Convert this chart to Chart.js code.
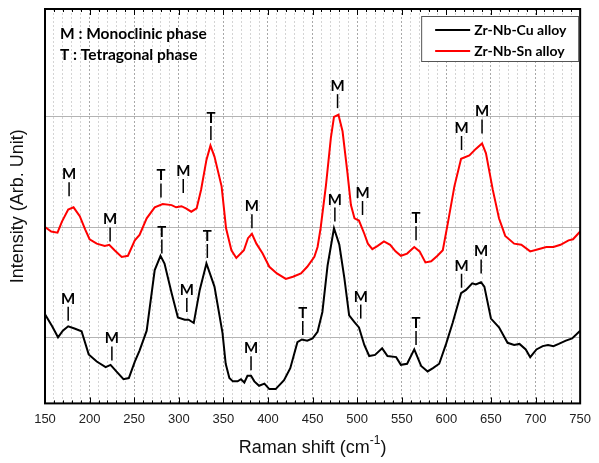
<!DOCTYPE html>
<html>
<head>
<meta charset="utf-8">
<script src="https://cdn.jsdelivr.net/npm/chart.js@4.4.1/dist/chart.umd.min.js"></script>
<style>
  body { margin: 0; background: #fff; }
  #wrap { width: 599px; height: 463px; }
</style>
</head>
<body>
<div id="wrap"><canvas id="raman" width="599" height="463"></canvas></div>
<script>
// Zr-Nb-Cu alloy (black)
const cuShift = [150, 158, 164.6, 170, 176, 183, 191, 199, 208, 218, 223.5, 230, 238, 244, 250.7, 256, 264, 273, 279.5, 284,
  292, 299, 306.7, 311, 316.8, 323.5, 331, 340, 349, 352.6, 356.7, 360.6, 366, 369.7, 373.5, 377, 381, 384.7, 390, 396,
  401.5, 408.6, 418, 425, 433, 438, 444, 450, 455.6, 461, 466.8, 474, 480, 485.6, 491, 496.7, 502, 508, 513.5, 520,
  528, 534, 543.7, 549, 556, 564, 571.7, 579, 585, 592, 599.7, 607, 616.5, 622, 629, 633, 638.8, 642.6, 650, 659,
  668.6, 676, 682, 689, 694, 701, 708, 714, 720, 726, 734, 741, 750];
const cuIntensity = [0.21, 0.10, 0.00, 0.06, 0.10, 0.08, 0.055, -0.155, -0.22, -0.27, -0.25, -0.31, -0.38, -0.37, -0.22, -0.12, 0.06, 0.61, 0.74, 0.67,
  0.40, 0.18, 0.16, 0.16, 0.13, 0.43, 0.67, 0.46, 0.04, -0.24, -0.37, -0.40, -0.40, -0.38, -0.41, -0.35, -0.35, -0.40, -0.44, -0.42,
  -0.47, -0.47, -0.39, -0.28, -0.045, -0.02, -0.03, -0.01, 0.05, 0.23, 0.65, 0.99, 0.84, 0.54, 0.20, 0.14, 0.09, -0.07, -0.17, -0.16,
  -0.10, -0.17, -0.18, -0.25, -0.24, -0.11, -0.26, -0.31, -0.28, -0.24, -0.06, 0.13, 0.40, 0.43, 0.49, 0.48, 0.50, 0.46, 0.17, 0.09,
  -0.05, -0.07, -0.06, -0.11, -0.18, -0.11, -0.08, -0.07, -0.08, -0.06, -0.03, -0.01, 0.06];

// Zr-Nb-Sn alloy (red)
const snShift = [150, 157, 164, 169, 176, 182, 189, 195, 200, 208, 217, 222, 228, 236, 243, 250.7, 256, 264, 273, 282,
  292, 297, 303, 308, 314, 320, 325, 331, 335.5, 340, 348, 353, 359, 364.5, 373, 377.6, 382, 387, 394, 401.5,
  410, 420, 428, 437, 444, 452, 455.6, 459, 465, 470.5, 474, 479, 483.6, 489, 493, 497, 502, 508, 512, 517,
  523, 530, 537, 543, 549, 556, 564, 570, 576.5, 583, 590, 596, 601.5, 609, 616.5, 625.8, 633, 640, 644.4, 652,
  659, 666, 676, 684, 694, 703, 712, 720, 728, 737, 742, 750];
const snIntensity = [1.00, 0.96, 0.95, 1.05, 1.16, 1.18, 1.10, 0.98, 0.89, 0.85, 0.83, 0.84, 0.79, 0.73, 0.74, 0.88, 0.93, 1.08, 1.18, 1.21,
  1.20, 1.18, 1.19, 1.17, 1.14, 1.17, 1.34, 1.61, 1.74, 1.64, 1.37, 0.99, 0.79, 0.72, 0.79, 0.90, 0.94, 0.85, 0.76, 0.64,
  0.58, 0.53, 0.55, 0.58, 0.64, 0.73, 0.82, 0.99, 1.38, 1.81, 2.00, 2.02, 1.87, 1.50, 1.20, 1.08, 1.06, 0.94, 0.85, 0.80,
  0.83, 0.87, 0.84, 0.78, 0.74, 0.76, 0.82, 0.78, 0.68, 0.69, 0.74, 0.79, 1.03, 1.37, 1.62, 1.65, 1.71, 1.76, 1.67, 1.34,
  1.08, 0.92, 0.85, 0.84, 0.78, 0.80, 0.82, 0.82, 0.84, 0.88, 0.89, 0.96];

// phase marks: label, Raman shift, intensity where the marker line ends
const cuMarkLabel = ['M', 'M', 'T', 'M', 'T', 'M', 'T', 'M', 'M', 'T', 'M', 'M'];
const cuMarkShift = [176, 225, 281, 309, 332, 381, 439, 475, 504, 566, 617, 639];
const cuMarkTip = [0.15, -0.21, 0.76, 0.23, 0.72, -0.30, 0.02, 1.05, 0.17, -0.07, 0.45, 0.58];

const snMarkLabel = ['M', 'M', 'T', 'M', 'T', 'M', 'M', 'M', 'T', 'M', 'M'];
const snMarkShift = [177, 223, 280, 305, 336, 382, 478, 506, 566, 617, 640];
const snMarkTip = [1.28, 0.87, 1.27, 1.31, 1.79, 0.99, 2.08, 1.11, 0.88, 1.70, 1.85];

const baseLines = [0, 1, 2];
const phaseNotes = ['M : Monoclinic phase', 'T : Tetragonal phase'];

function toPoints(xs, ys) {
    return xs.map((x, i) => ({ x: x, y: ys[i] }));
}

const decor = {
    id: 'decor',
    afterDatasetsDraw(chart) {
        const ctx = chart.ctx;
        const a = chart.chartArea;
        const xs = chart.scales.x, ys = chart.scales.y;
        ctx.save();

        // phase marks
        function marks(labels, shifts, tips) {
            ctx.font = 'bold 15px Lato';
            ctx.textAlign = 'center';
            ctx.textBaseline = 'alphabetic';
            ctx.fillStyle = '#000';
            ctx.strokeStyle = '#000';
            ctx.lineWidth = 1.5;
            labels.forEach((t, i) => {
                const px = xs.getPixelForValue(shifts[i]);
                const py = ys.getPixelForValue(tips[i]);
                ctx.beginPath();
                ctx.moveTo(px, py);
                ctx.lineTo(px, py - 14);
                ctx.stroke();
                ctx.fillText(t, px, py - 17);
            });
        }
        marks(snMarkLabel, snMarkShift, snMarkTip);
        marks(cuMarkLabel, cuMarkShift, cuMarkTip);

        // inward ticks on bottom and top
        ctx.strokeStyle = '#000';
        ctx.lineWidth = 1;
        for (let v = 150; v <= 750; v += 10) {
            const px = Math.round(xs.getPixelForValue(v)) + 0.5;
            const len = v % 50 === 0 ? 6 : 3;
            ctx.beginPath();
            ctx.moveTo(px, a.bottom);
            ctx.lineTo(px, a.bottom - len);
            ctx.moveTo(px, a.top);
            ctx.lineTo(px, a.top + len);
            ctx.stroke();
        }

        // frame
        ctx.lineWidth = 2;
        ctx.strokeRect(a.left, a.top, a.right - a.left, a.bottom - a.top);

        // notes
        ctx.font = 'bold 15.5px Lato';
        ctx.textAlign = 'left';
        ctx.textBaseline = 'middle';
        ctx.fillStyle = '#000';
        ctx.fillText(phaseNotes[0], a.left + 15, a.top + 25);
        ctx.fillText(phaseNotes[1], a.left + 15, a.top + 46);

        // legend
        const bx = a.right - 159, by = a.top + 7, bw = 157, bh = 45;
        ctx.fillStyle = '#fff';
        ctx.fillRect(bx, by, bw, bh);
        ctx.strokeStyle = '#555';
        ctx.lineWidth = 1;
        ctx.strokeRect(bx + 0.5, by + 0.5, bw, bh);
        ctx.font = 'bold 14px Lato';
        chart.data.datasets.forEach((ds, i) => {
            const yy = by + 14 + i * 21;
            ctx.strokeStyle = ds.borderColor;
            ctx.lineWidth = 2;
            ctx.beginPath();
            ctx.moveTo(bx + 14, yy);
            ctx.lineTo(bx + 49, yy);
            ctx.stroke();
            ctx.fillStyle = '#000';
            ctx.fillText(ds.label, bx + 53, yy);
        });

        // axis titles
        ctx.fillStyle = '#111';
        ctx.textBaseline = 'middle';
        const main = 'Raman shift (cm', sup = '-1', close = ')';
        ctx.font = '18px "Liberation Sans"';
        const w1 = ctx.measureText(main).width;
        const w3 = ctx.measureText(close).width;
        ctx.font = '12px "Liberation Sans"';
        const w2 = ctx.measureText(sup).width;
        const cx = (a.left + a.right) / 2;
        const sx = cx - (w1 + w2 + w3) / 2;
        const ty = 448;
        ctx.font = '18px "Liberation Sans"';
        ctx.fillText(main, sx, ty);
        ctx.font = '12px "Liberation Sans"';
        ctx.fillText(sup, sx + w1, ty - 7);
        ctx.font = '18px "Liberation Sans"';
        ctx.fillText(close, sx + w1 + w2, ty);

        ctx.translate(18, (a.top + a.bottom) / 2);
        ctx.rotate(-Math.PI / 2);
        ctx.textAlign = 'center';
        ctx.fillText('Intensity (Arb. Unit)', 0, 0);
        ctx.restore();
    }
};

new Chart(document.getElementById('raman'), {
    type: 'line',
    data: {
        datasets: [
            {
                label: 'Zr-Nb-Cu alloy',
                data: toPoints(cuShift, cuIntensity),
                borderColor: '#000000',
                borderWidth: 2,
                pointRadius: 0,
                tension: 0
            },
            {
                label: 'Zr-Nb-Sn alloy',
                data: toPoints(snShift, snIntensity),
                borderColor: '#ff0000',
                borderWidth: 2,
                pointRadius: 0,
                tension: 0
            }
        ]
    },
    options: {
        responsive: false,
        animation: false,
        devicePixelRatio: 1,
        layout: { padding: { left: 45, right: 18, top: 9, bottom: 28 } },
        plugins: { legend: { display: false }, tooltip: { enabled: false } },
        scales: {
            x: {
                type: 'linear',
                min: 150,
                max: 750,
                border: { display: false, dash: [2, 2] },
                grid: {
                    drawTicks: false,
                    color: (c) => (c.tick && c.tick.value % 50 === 0) ? '#a8a8a8' : '#d4d4d4',
                    lineWidth: 1
                },
                ticks: {
                    stepSize: 10,
                    autoSkip: false,
                    maxRotation: 0,
                    padding: 8,
                    color: '#222',
                    font: { family: 'Liberation Sans', size: 13 },
                    callback: (v) => v % 50 === 0 ? v : ''
                }
            },
            y: {
                min: -0.6,
                max: 2.98,
                border: { display: false },
                afterBuildTicks: (s) => { s.ticks = baseLines.map(v => ({ value: v })); },
                grid: { drawTicks: false, color: '#b4b4b4', lineWidth: 1 },
                ticks: { display: false }
            }
        }
    },
    plugins: [decor]
});
</script>
</body>
</html>
